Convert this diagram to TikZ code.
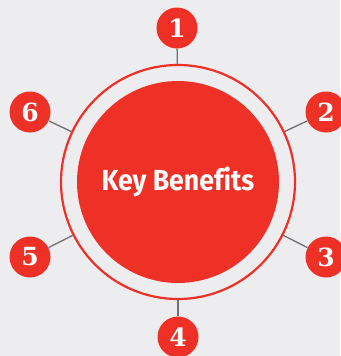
\documentclass[tikz,border=0pt]{standalone}
\usepackage{fontspec}
\setmainfont{DejaVu Serif}
\newfontfamily\labelfont[Ligatures=NoCommon]{Fira Sans}
\usetikzlibrary{positioning,calc}
\definecolor{benefitred}{HTML}{EE3026}
\definecolor{paper}{HTML}{EDECEE}
\definecolor{spoke}{HTML}{707070}
\tikzset{
  numdot/.style={circle, fill=benefitred, text=white, minimum size=41pt, inner sep=0pt,
    font=\fontsize{25}{25}\selectfont\bfseries},
  spokeline/.style={draw=spoke, line width=1.3pt}
}

\begin{document}
\begin{tikzpicture}[x=1pt, y=-1pt]
                % Background
                \fill[paper] (0,0) rectangle (340,356);
                \useasboundingbox (0,0) rectangle (340,356);

                % Ring and centre
                \node[circle, draw=benefitred, line width=2.2pt, minimum size=234pt, inner sep=0pt] (ring) at (178,182) {};
                \node[circle, fill=benefitred, minimum size=202pt, inner sep=0pt, text=white,
                  font=\labelfont\fontsize{29}{29}\selectfont\bfseries] (core) at (178,182) {\scalebox{0.92}[1]{Key Benefits}};

                % Numbers
                \node[numdot] (n1) at (177,28) {1};
                \node[numdot] (n2) at (326,112) {2};
                \node[numdot] (n3) at (326,257) {3};
                \node[numdot] (n4) at (178,337) {4};
                \node[numdot] (n5) at (30,257) {5};
                \node[numdot] (n6) at (30,112) {6};

                % Spokes
                \draw[spokeline] (n1) -- (ring);
                \draw[spokeline] (n2) -- (ring);
                \draw[spokeline] (n3) -- (ring);
                \draw[spokeline] (n4) -- (ring);
                \draw[spokeline] (n5) -- (ring);
                \draw[spokeline] (n6) -- (ring);
\end{tikzpicture}
\end{document}
